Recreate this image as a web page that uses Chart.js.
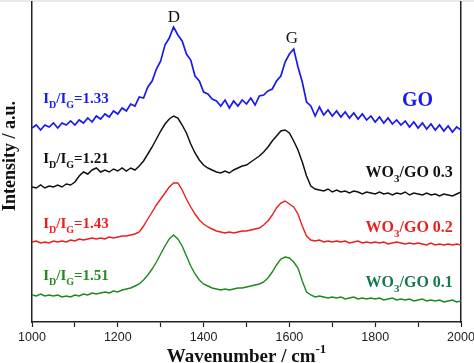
<!DOCTYPE html>
<html>
<head>
<meta charset="utf-8">
<script src="https://cdn.jsdelivr.net/npm/chart.js@4.4.1/dist/chart.umd.min.js"></script>
<style>
  html, body { margin: 0; padding: 0; background: #fff; }
  #wrap { width: 474px; height: 363px; }
</style>
</head>
<body>
<div id="wrap"><canvas id="ramanChart" width="474" height="363"></canvas></div>
<script>
// Raman spectra, wavenumber step of 10 cm-1 (1000..2000), intensity in a.u. (curves offset)
const wavenumbers = [1000, 1010, 1020, 1030, 1040, 1050, 1060, 1070, 1080, 1090,
  1100, 1110, 1120, 1130, 1140, 1150, 1160, 1170, 1180, 1190,
  1200, 1210, 1220, 1230, 1240, 1250, 1260, 1270, 1280, 1290,
  1300, 1310, 1320, 1330, 1340, 1350, 1360, 1370, 1380, 1390,
  1400, 1410, 1420, 1430, 1440, 1450, 1460, 1470, 1480, 1490,
  1500, 1510, 1520, 1530, 1540, 1550, 1560, 1570, 1580, 1590,
  1600, 1610, 1620, 1630, 1640, 1650, 1660, 1670, 1680, 1690,
  1700, 1710, 1720, 1730, 1740, 1750, 1760, 1770, 1780, 1790,
  1800, 1810, 1820, 1830, 1840, 1850, 1860, 1870, 1880, 1890,
  1900, 1910, 1920, 1930, 1940, 1950, 1960, 1970, 1980, 1990, 2000];

const goValues = [194, 197, 192, 197, 195, 199, 194, 199, 197, 201,
  197, 202, 199, 204, 200, 206, 203, 208, 205, 211,
  208, 214, 211, 218, 216, 225, 224, 235, 241, 253,
  261, 277, 284, 295, 287, 281, 268, 262, 246, 241,
  230, 228, 223, 221, 216, 222, 214, 221, 216, 222,
  218, 224, 217, 226, 227, 231, 233, 241, 246, 260,
  268, 273, 255, 240, 220, 216, 206, 215, 207, 212,
  206, 211, 205, 210, 204, 209, 203, 208, 202, 206,
  200, 205, 199, 204, 198, 202, 197, 201, 195, 200,
  194, 199, 193, 198, 192, 197, 191, 196, 190, 195, 192];

const wo3go03Values = [135, 134, 137, 134, 136, 135, 137, 135, 138, 137,
  140, 146, 150, 148, 152, 154, 150, 152, 150, 153,
  151, 154, 151, 154, 152, 156, 161, 168, 175, 183,
  191, 198, 203, 206, 204, 197, 189, 178, 169, 162,
  157, 154, 152, 150, 149, 151, 149, 152, 154, 156,
  157, 160, 163, 166, 170, 175, 181, 186, 191, 192,
  189, 181, 172, 160, 146, 136, 133, 132, 131, 133,
  130, 132, 130, 131, 129, 131, 130, 128, 130, 129,
  128, 130, 128, 129, 127, 129, 128, 130, 127, 129,
  128, 127, 129, 127, 128, 126, 128, 127, 126, 128, 130];

const wo3go02Values = [80, 81, 79, 80, 79, 81, 80, 81, 80, 82,
  81, 83, 82, 83, 84, 83, 84, 83, 85, 84,
  85, 86, 86, 87, 88, 90, 96, 103, 110, 117,
  123, 129, 135, 139, 139, 132, 123, 115, 108, 102,
  98, 95, 93, 91, 90, 89, 90, 89, 90, 91,
  91, 92, 93, 94, 97, 101, 107, 114, 119, 121,
  118, 115, 108, 96, 86, 82, 81, 82, 80, 81,
  80, 81, 80, 81, 79, 80, 81, 79, 80, 79,
  80, 79, 80, 78, 79, 80, 79, 78, 79, 78,
  79, 78, 77, 79, 77, 78, 77, 78, 77, 78, 77];

const wo3go01Values = [27, 26, 28, 26, 27, 26, 27, 25, 26, 25,
  27, 26, 28, 27, 29, 28, 29, 30, 29, 31,
  30, 32, 33, 34, 36, 38, 42, 47, 53, 60,
  68, 76, 83, 87, 83, 76, 66, 56, 48, 42,
  38, 36, 34, 33, 32, 33, 32, 33, 34, 34,
  35, 36, 37, 38, 40, 44, 50, 57, 63, 65,
  64, 60, 54, 41, 30, 27, 25, 26, 25, 24,
  25, 24, 25, 23, 24, 25, 23, 24, 23, 24,
  23, 24, 22, 23, 24, 22, 23, 22, 23, 21,
  22, 23, 21, 22, 21, 22, 20, 21, 22, 20, 21];

const xTickValues = [1000, 1200, 1400, 1600, 1800, 2000];

const seriesNames = ['GO', 'WO3/GO 0.3', 'WO3/GO 0.2', 'WO3/GO 0.1'];
const seriesColors = ['#1a1aee', '#111111', '#ee1d1d', '#1c8a1c'];
const seriesWidths = [1.7, 1.5, 1.4, 1.4];

function toPoints(ys) {
  return wavenumbers.map((x, i) => ({ x: x, y: ys[i] }));
}

// text labels: [text segments], x (cm-1), y (a.u.), align, color, font size
const serif = '"Liberation Serif", "Times New Roman", serif';
const annotations = [
  { segs: [['D']], x: 1331, y: 300, align: 'center', color: '#111', size: 17, bold: false },
  { segs: [['G']], x: 1606, y: 279, align: 'center', color: '#111', size: 17, bold: false },
  { segs: [['I'], ['D', 'sub'], ['/I'], ['G', 'sub'], ['=1.33']], x: 1026, y: 219, align: 'left', color: '#1a1aee', size: 15, bold: true },
  { segs: [['I'], ['D', 'sub'], ['/I'], ['G', 'sub'], ['=1.21']], x: 1026, y: 159, align: 'left', color: '#111', size: 15, bold: true },
  { segs: [['I'], ['D', 'sub'], ['/I'], ['G', 'sub'], ['=1.43']], x: 1026, y: 94, align: 'left', color: '#ee1d1d', size: 15, bold: true },
  { segs: [['I'], ['D', 'sub'], ['/I'], ['G', 'sub'], ['=1.51']], x: 1026, y: 42, align: 'left', color: '#238b23', size: 15, bold: true },
  { segs: [['GO']], x: 1935, y: 216, align: 'right', color: '#1a1aee', size: 20, bold: true },
  { segs: [['WO'], ['3', 'sub'], ['/GO 0.3']], x: 1981, y: 145, align: 'right', color: '#111', size: 16, bold: true },
  { segs: [['WO'], ['3', 'sub'], ['/GO 0.2']], x: 1981, y: 90, align: 'right', color: '#ee1d1d', size: 16, bold: true },
  { segs: [['WO'], ['3', 'sub'], ['/GO 0.1']], x: 1981, y: 35, align: 'right', color: '#167a4a', size: 16, bold: true }
];

function segFont(size, bold, kind) {
  const s = kind ? Math.round(size * 0.66) : size;
  return (bold ? 'bold ' : '') + s + 'px ' + serif;
}

function drawRich(ctx, segs, x, y, align, size, bold) {
  let total = 0;
  segs.forEach(s => { ctx.font = segFont(size, bold, s[1]); total += ctx.measureText(s[0]).width; });
  let cx = align === 'center' ? x - total / 2 : align === 'right' ? x - total : x;
  ctx.textAlign = 'left';
  ctx.textBaseline = 'alphabetic';
  segs.forEach(s => {
    ctx.font = segFont(size, bold, s[1]);
    let dy = 0;
    if (s[1] === 'sub') dy = size * 0.33;
    if (s[1] === 'sup') dy = -size * 0.45;
    ctx.fillText(s[0], cx, y + dy);
    cx += ctx.measureText(s[0]).width;
  });
  return total;
}

const textPlugin = {
  id: 'ramanText',
  beforeDraw(chart) {
    const ctx = chart.ctx;
    ctx.save();
    ctx.fillStyle = '#ffffff';
    ctx.fillRect(0, 0, chart.width, chart.height);
    ctx.fillStyle = '#e9e9e9';
    ctx.fillRect(0, 0, chart.width, 2);
    ctx.restore();
  },
  afterDraw(chart) {
    const ctx = chart.ctx;
    const xs = chart.scales.x, ys = chart.scales.y;
    ctx.save();
    annotations.forEach(a => {
      ctx.fillStyle = a.color;
      drawRich(ctx, a.segs, xs.getPixelForValue(a.x), ys.getPixelForValue(a.y), a.align, a.size, a.bold);
    });

    // axis titles
    ctx.fillStyle = '#111';
    const midX = (chart.chartArea.left + chart.chartArea.right) / 2;
    drawRich(ctx, [['Wavenumber / cm'], ['-1', 'sup']], midX, chart.height - 1, 'center', 19, true);

    ctx.translate(14.5, (chart.chartArea.top + chart.chartArea.bottom) / 2 - 6);
    ctx.rotate(-Math.PI / 2);
    drawRich(ctx, [['Intensity / a.u.']], 0, 0, 'center', 18, true);
    ctx.restore();
  }
};

const ctx = document.getElementById('ramanChart').getContext('2d');
const ramanChart = new Chart(ctx, {
  type: 'line',
  data: {
    datasets: [goValues, wo3go03Values, wo3go02Values, wo3go01Values].map((vals, i) => ({
      label: seriesNames[i],
      data: toPoints(vals),
      borderColor: seriesColors[i],
      borderWidth: seriesWidths[i],
      pointRadius: 0,
      tension: 0,
      fill: false
    }))
  },
  options: {
    responsive: false,
    animation: false,
    layout: { padding: { top: 2, right: 13, left: 0, bottom: 0 } },
    plugins: {
      legend: { display: false },
      tooltip: { enabled: false }
    },
    scales: {
      x: {
        type: 'linear',
        min: 1000,
        max: 2000,
        ticks: {
          stepSize: 100,
          maxRotation: 0,
          autoSkip: false,
          padding: 3,
          color: '#222',
          font: { family: '"Liberation Sans", Arial, sans-serif', size: 12.5 },
          callback: v => xTickValues.includes(v) ? String(v) : ''
        },
        grid: { drawOnChartArea: false, tickLength: 5, color: '#222', tickWidth: 1.2 },
        border: { color: '#222', width: 1.5 },
        afterFit: s => { s.height = 41; s.paddingLeft = 0; s.paddingRight = 0; }
      },
      y: {
        min: 0,
        max: 320,
        ticks: { display: false },
        grid: { display: false },
        border: { color: '#222', width: 1.5 },
        afterFit: s => { s.width = 32; }
      },
      y2: {
        position: 'right',
        min: 0,
        max: 320,
        ticks: { display: false },
        grid: { display: false },
        border: { color: '#222', width: 1.5 },
        afterFit: s => { s.width = 0; }
      }
    }
  },
  plugins: [textPlugin]
});
</script>
</body>
</html>
